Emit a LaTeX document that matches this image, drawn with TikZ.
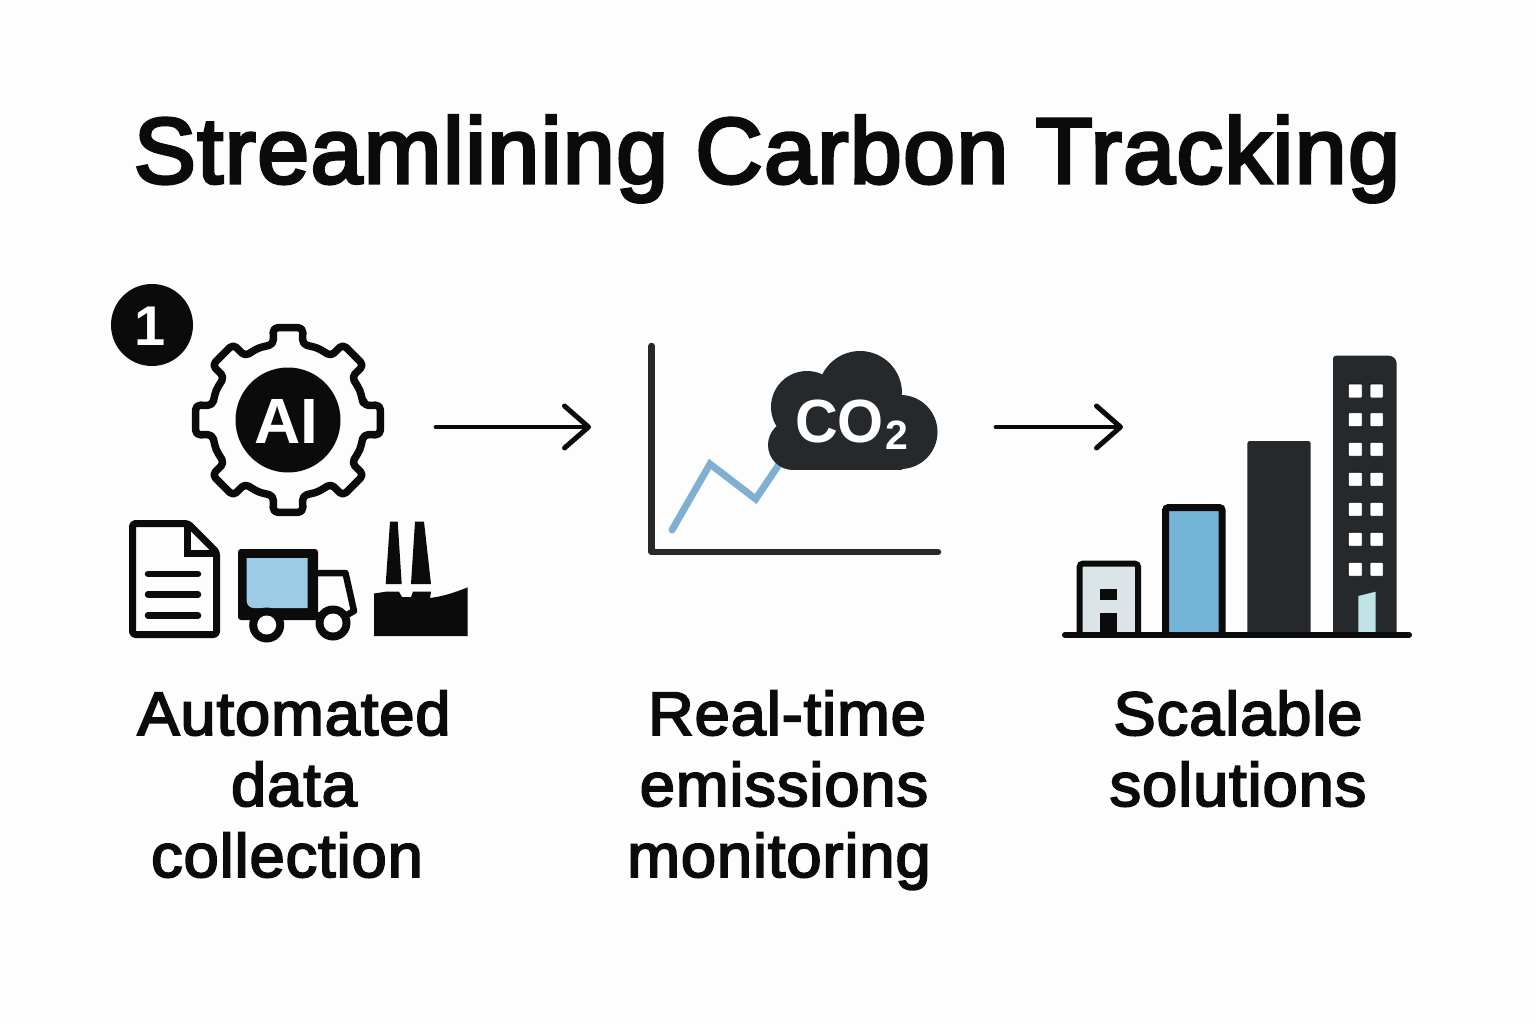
\documentclass[tikz,border=0pt]{standalone}
\usepackage{fontspec}
\setmainfont{Liberation Sans}
\newfontfamily\labelfont[FakeBold=3,FakeStretch=1.03,LetterSpace=1.4]{Liberation Sans}
\newfontfamily\titlefont[FakeBold=3.6,LetterSpace=1.7]{Liberation Sans}
\newfontfamily\cofont[FakeStretch=0.97]{Liberation Sans}
\usetikzlibrary{arrows.meta}
\definecolor{bgc}{HTML}{FDFDFD}
\definecolor{inkc}{HTML}{0B0B0C}
\definecolor{slatec}{HTML}{25292C}
\definecolor{truckblue}{HTML}{9BCBE5}
\definecolor{lineblue}{HTML}{7FB0D2}
\definecolor{barblue}{HTML}{74B4D9}
\definecolor{palegrey}{HTML}{DBE5E8}
\definecolor{doorc}{HTML}{C0E3E6}
\tikzset{
  x=1pt,y=-1pt,
  titletext/.style={anchor=base,inner sep=0pt,text=inkc,font=\titlefont\fontsize{93}{93}\selectfont},
  labeltext/.style={anchor=base,inner sep=0pt,text=inkc,align=center,font=\labelfont\fontsize{61.5}{71}\selectfont},
  inv/.style={anchor=base,inner sep=0pt,text=white,font=\bfseries},
  outline/.style={draw=inkc,line width=7pt,line join=round},
  flow/.style={draw=inkc,line width=4.8pt,line cap=round,-{Straight Barb[length=24pt,width=42pt,line width=5pt,round]}},
  axis/.style={draw=slatec,line width=6.5pt,line cap=round,line join=round},
  winbox/.style={fill=white,draw=inkc,line width=.8pt,rounded corners=.8pt},
}
\begin{document}
\begin{tikzpicture}
\fill[bgc] (0,0) rectangle (1536,1024);
\useasboundingbox (0,0) rectangle (1536,1024);

\node[titletext] (title) at (767,183) {Streamlining Carbon Tracking};

% badge
\fill[inkc] (152,325) circle[radius=41];
\node[inv,font=\bfseries\fontsize{56}{56}\selectfont] (badge) at (150,345) {1};

% gear
\begin{scope}[shift={(288,420)}]
\draw[outline,line width=7.5pt,rounded corners=4.5pt] (-11:77) \foreach \a in {0,45,...,315}{ -- (\a-11:77) -- (\a-9.1:93.5) -- (\a+9.1:93.5) -- (\a+11:77) -- (\a+22.5:78)} -- cycle;
\fill[inkc] (0,0) circle[radius=52.5];
\end{scope}
\node[inv,font=\bfseries\fontsize{64}{64}\selectfont] (ai) at (286,443) {AI};

% document
\draw[outline,rounded corners=3pt] (132.5,523.5) -- (188,523.5) -- (216.5,552) -- (216.5,634.5) -- (132.5,634.5) -- cycle;
\draw[outline,line join=miter] (187,523.5) -- (187,553.5) -- (216,553.5);
\foreach \y in {574,594.5,615.5}
  \draw[inkc,line width=6.5pt,line cap=round] (148,\y) -- (198,\y);

% truck
\fill[inkc,rounded corners=3pt] (238,549) rectangle (318,620);
\fill[truckblue,rounded corners=0pt] (307.7,558) -- (246.7,558) [rounded corners=7pt] -- (246.7,608) [rounded corners=0pt] -- (307.7,608) -- cycle;
\draw[outline,line width=6.5pt] (316,573) -- (345.5,573) -- (354,611) -- (345,616);
\fill[inkc] (300,612) rectangle (322,620);
\fill[inkc] (266.7,625) circle[radius=17.5];
\fill[inkc] (333,623) circle[radius=17.5];
\fill[white] (266.7,625) circle[radius=9.5];
\fill[white] (333,623) circle[radius=9.5];

% factory
\fill[inkc] (390,521.7) -- (397.7,521.7) -- (401.7,584) -- (385.7,584) -- cycle;
\fill[inkc] (415,521.7) -- (424,521.7) -- (431,584) -- (411,584) -- cycle;
\fill[inkc] (374,593.5) -- (386,591.7) -- (399,591.7) -- (402,597) -- (411,597) -- (413,591.7) -- (431,591.7) -- (430,598) .. controls (445,596) and (456,592) .. (467.7,587.3) -- (467.7,636) -- (374,636) -- cycle;

% chart
\draw[axis] (651.7,346) -- (651.7,552) -- (938,552);
\draw[lineblue,line width=7pt,line cap=round,line join=miter] (672,530) -- (710,464) -- (755.7,499) -- (780,463);
\fill[slatec] (860,393) circle[radius=42];
\fill[slatec] (807,407) circle[radius=36];
\fill[slatec] (793,445) circle[radius=25];
\fill[slatec] (900.5,432) circle[radius=37];
\fill[slatec] (793,440) rectangle (902,469.5);
\fill[slatec] (800,405) rectangle (895,445);
\node[inv,font=\cofont\bfseries\fontsize{61}{61}\selectfont] (co) at (839.5,442) {CO};
\node[inv,font=\bfseries\fontsize{41}{41}\selectfont] (two) at (896.5,449) {2};

% buildings
\draw[draw=inkc,fill=palegrey,line width=6pt,rounded corners=3pt] (1079.7,563.7) rectangle (1138,640);
\fill[inkc] (1100,589) rectangle (1116.7,600);
\fill[inkc] (1100,613) rectangle (1116.7,633);
\draw[draw=inkc,fill=barblue,line width=7pt,rounded corners=3pt] (1165.5,507.5) rectangle (1222.2,640);
\fill[slatec,rounded corners=2.5pt] (1247.3,441) rectangle (1310.7,640);
\fill[slatec] (1333,635) [rounded corners=3pt] -- (1333,355.7) [rounded corners=8pt] -- (1396.7,355.7) [rounded corners=0pt] -- (1396.7,635) -- cycle;
\foreach \y in {384,412.7,442.3,472.3,502.3,532.3,562.3}{
  \path[winbox] (1348.3,\y) rectangle (1362.3,\y+14);
  \path[winbox] (1370,\y) rectangle (1383.3,\y+14);
}
\fill[doorc] (1358.3,596) -- (1375.7,591.7) -- (1375.7,632) -- (1358.3,632) -- cycle;
\fill[bgc] (1060,638) rectangle (1415,650);
\draw[inkc,line width=6pt,line cap=round] (1065,635) -- (1409,635);

% connectors
\coordinate (gearexit) at (436,427);
\coordinate (chartentry) at (591,427);
\coordinate (chartexit) at (996,427);
\coordinate (bldgentry) at (1123,427);
\draw[flow] (gearexit) -- (chartentry);
\draw[flow] (chartexit) -- (bldgentry);

% labels
\node[labeltext] (lab1) at (294,877) {Automated\\data\\\hspace*{-14pt}collection};
\node[labeltext] (lab2) at (787,877) {Real-time\\\hspace*{-6pt}emissions\\\hspace*{-16pt}monitoring};
\node[labeltext] (lab3) at (1238,806) {Scalable\\solutions};
\end{tikzpicture}
\end{document}
